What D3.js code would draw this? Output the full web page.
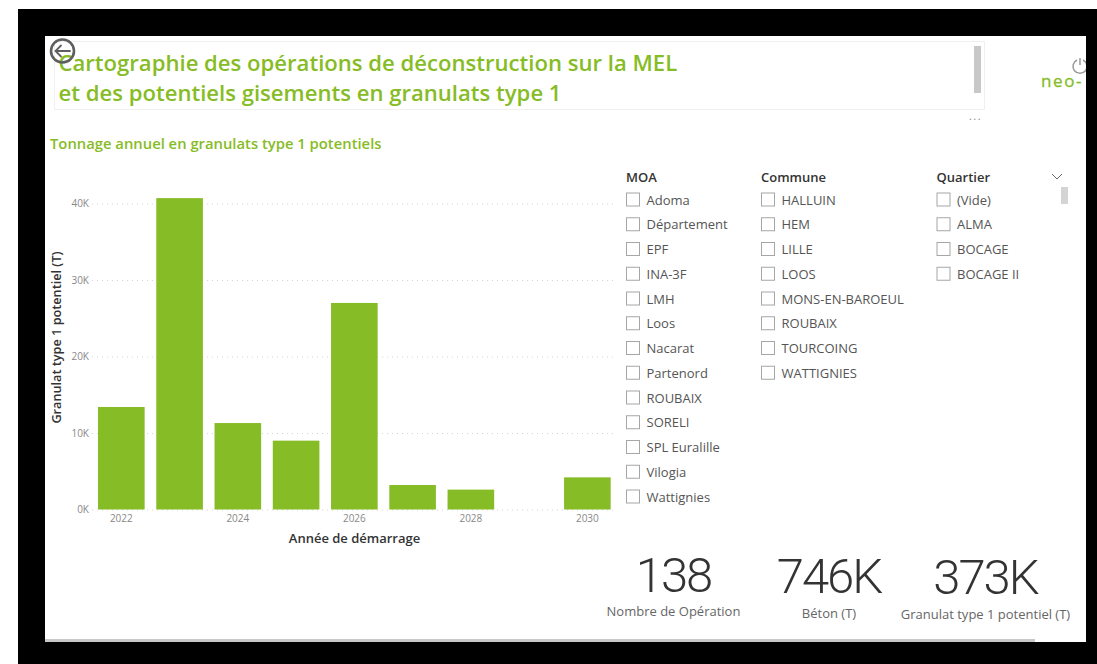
<!DOCTYPE html>
<html>
<head>
<meta charset="utf-8">
<script src="https://cdn.jsdelivr.net/npm/d3@7"></script>
<style>
  html, body { margin: 0; padding: 0; background: #fff; overflow: hidden; }
  text { font-family: "Open Sans", "Noto Sans", sans-serif; }
  .kpi { font-family: Roboto, "Open Sans", sans-serif; }
</style>
</head>
<body>
<svg id="chart"></svg>
<script>
// Values.
const years = [2022, 2023, 2024, 2025, 2026, 2027, 2028, 2029, 2030];
const tonnage = [13400, 40700, 11300, 9000, 27000, 3200, 2600, 0, 4200];
const yTicks = [0, 10000, 20000, 30000, 40000];
const titleLines = ["Cartographie des opérations de déconstruction sur la MEL", "et des potentiels gisements en granulats type 1"];
const moa = ["Adoma", "Département", "EPF", "INA-3F", "LMH", "Loos", "Nacarat", "Partenord", "ROUBAIX", "SORELI", "SPL Euralille", "Vilogia", "Wattignies"];
const communes = ["HALLUIN", "HEM", "LILLE", "LOOS", "MONS-EN-BAROEUL", "ROUBAIX", "TOURCOING", "WATTIGNIES"];
const quartiers = ["(Vide)", "ALMA", "BOCAGE", "BOCAGE II"];
const kpiValues = ["138", "746K", "373K"];
const kpiLabels = ["Nombre de Opération", "Béton (T)", "Granulat type 1 potentiel (T)"];

const green = "#86bc25";
const width = 1097, height = 664;

const svg = d3.select("#chart")
    .attr("width", width)
    .attr("height", height)
    .style("display", "block");

// Black frame around the report page.
svg.append("rect").attr("x", 18).attr("y", 9).attr("width", width - 18).attr("height", height - 9).attr("fill", "#000");
svg.append("rect").attr("x", 45).attr("y", 36).attr("width", 1041).attr("height", 606).attr("fill", "#fff");
svg.append("rect").attr("x", 45).attr("y", 639).attr("width", 990).attr("height", 3).attr("fill", "#c8c8c8");

// Title box with its scrollbar.
svg.append("rect").attr("x", 54.5).attr("y", 41.5).attr("width", 930).attr("height", 68)
    .attr("fill", "none").attr("stroke", "#f0f0f0");
svg.append("rect").attr("x", 974).attr("y", 46).attr("width", 7).attr("height", 47).attr("fill", "#c8c8c8");
svg.selectAll(".title").data(titleLines).enter().append("text")
    .attr("class", "title")
    .attr("x", 58.5)
    .attr("y", (d, i) => 70.5 + i * 30)
    .attr("fill", green)
    .attr("font-size", 22.1)
    .attr("font-weight", 600)
    .text(d => d);

// Back button.
const back = svg.append("g").attr("fill", "none").attr("stroke", "#5f5f5f").attr("stroke-linecap", "round");
back.append("circle").attr("cx", 62.5).attr("cy", 51).attr("r", 11.5).attr("stroke-width", 2.6);
back.append("path").attr("d", "M70 51H55.5M61 45.5L55.5 51L61 56.5").attr("stroke-width", 1.8);

// "More options" dots and the cut off logo.
svg.append("text").attr("x", 975.5).attr("y", 120).attr("text-anchor", "middle").attr("font-size", 11)
    .attr("letter-spacing", 1.5).attr("fill", "#888").text("...");
svg.append("text").attr("x", 1041).attr("y", 87).attr("font-size", 17).attr("fill", green)
    .attr("stroke", green).attr("stroke-width", 0.3)
    .attr("letter-spacing", 1.6).text("neo-");
svg.append("path").attr("d", "M1077 60a7 7 0 1 0 6 0M1080 58v7").attr("fill", "none").attr("stroke", "#999").attr("stroke-width", 1.5);
svg.append("rect").attr("x", 1086).attr("y", 50).attr("width", 11).attr("height", 40).attr("fill", "#000");

// Chart title.
svg.append("text").attr("x", 50).attr("y", 149).attr("fill", green).attr("font-size", 14.8).attr("font-weight", 600)
    .text("Tonnage annuel en granulats type 1 potentiels");

// Scales.
const x = d3.scaleBand().domain(years).range([92.2, 616.5]).paddingInner(0.2).paddingOuter(0.1);
const y = d3.scaleLinear().domain([0, 40000]).range([509.5, 203.5]);

// Y axis and dotted grid.
const yAxis = svg.append("g")
    .attr("transform", "translate(92,0)")
    .call(d3.axisLeft(y).tickValues(yTicks).tickFormat(d => (d / 1000) + "K").tickSize(0).tickPadding(3));
yAxis.select(".domain").remove();
yAxis.selectAll("text").attr("fill", "#888").attr("font-size", 10);
yAxis.selectAll("line")
    .attr("x2", 525)
    .attr("stroke", "#d4d4d4")
    .attr("stroke-dasharray", "1 4");

// Bars.
svg.selectAll(".bar").data(years).enter().append("rect")
    .attr("class", "bar")
    .attr("x", d => x(d))
    .attr("width", x.bandwidth())
    .attr("y", (d, i) => y(tonnage[i]))
    .attr("height", (d, i) => y(0) - y(tonnage[i]))
    .attr("fill", green);

// X axis, every second year labelled.
const xAxis = svg.append("g")
    .attr("transform", "translate(0,509.5)")
    .call(d3.axisBottom(x).tickValues(years.filter(d => d % 2 === 0)).tickFormat(d3.format("d")).tickSize(0).tickPadding(5));
xAxis.select(".domain").remove();
xAxis.selectAll("text").attr("fill", "#888").attr("font-size", 10);

// Axis titles.
svg.append("text").attr("x", 354.5).attr("y", 543).attr("text-anchor", "middle")
    .attr("font-size", 13).attr("font-weight", 600).attr("fill", "#333").text("Année de démarrage");
svg.append("text").attr("transform", "translate(61,337.5) rotate(-90)").attr("text-anchor", "middle")
    .attr("font-size", 12.7).attr("font-weight", 600).attr("fill", "#333").text("Granulat type 1 potentiel (T)");

// Slicers.
function slicer(title, items, left) {
    const g = svg.append("g").attr("transform", `translate(${left},0)`);
    g.append("text").attr("x", 0).attr("y", 182).attr("font-size", 13).attr("font-weight", 600).attr("fill", "#333").text(title);
    const rows = g.selectAll(".row").data(items).enter().append("g")
        .attr("transform", (d, i) => `translate(0,${199.5 + i * 24.75})`);
    rows.append("rect").attr("x", 0.5).attr("y", -6.5).attr("width", 13).attr("height", 13)
        .attr("fill", "#fff").attr("stroke", "#a6a6a6");
    rows.append("text").attr("x", 20.5).attr("y", 5).attr("font-size", 13).attr("fill", "#555").text(d => d);
}
slicer("MOA", moa, 626);
slicer("Commune", communes, 761);
slicer("Quartier", quartiers, 936.5);

// Quartier chevron and scrollbar.
svg.append("path").attr("d", "M1052 174L1057 179L1062 174").attr("fill", "none").attr("stroke", "#666");
svg.append("rect").attr("x", 1061).attr("y", 187).attr("width", 7).attr("height", 17).attr("fill", "#d4d4d4");

// KPI cards.
const kpiX = [673.5, 829, 985.5];
const kpiLabelY = [616, 618, 619];
svg.selectAll(".kpi").data(kpiValues).enter().append("text")
    .attr("class", "kpi")
    .attr("x", (d, i) => kpiX[i])
    .attr("y", (d, i) => 592 + i)
    .attr("text-anchor", "middle")
    .attr("font-size", 49)
    .attr("font-weight", 300)
    .attr("letter-spacing", -2)
    .attr("fill", "#333")
    .text(d => d);
svg.selectAll(".kpi-label").data(kpiLabels).enter().append("text")
    .attr("class", "kpi-label")
    .attr("x", (d, i) => kpiX[i])
    .attr("y", (d, i) => kpiLabelY[i])
    .attr("text-anchor", "middle")
    .attr("font-size", 13)
    .attr("fill", "#666")
    .text(d => d);
</script>
</body>
</html>
